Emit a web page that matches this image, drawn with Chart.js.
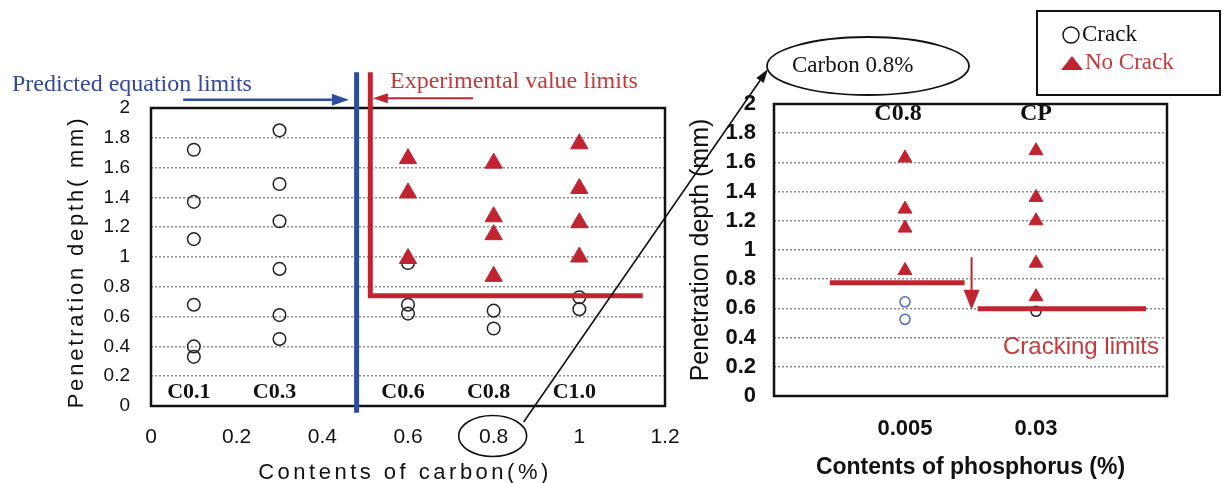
<!DOCTYPE html>
<html><head><meta charset="utf-8">
<script src="https://cdn.jsdelivr.net/npm/chart.js@4.4.1/dist/chart.umd.min.js"></script>
<style>
html,body{margin:0;padding:0;background:#fff;overflow:hidden}
#wrap{position:relative;width:1223px;height:483px;background:#fff}
canvas{position:absolute;left:0;top:0}
</style></head><body>
<div id="wrap"><canvas id="c1" width="1223" height="483"></canvas><canvas id="c2" width="1223" height="483"></canvas></div>
<script>
// ---------- data: left chart (carbon) ----------
const carbonContents = [0.1, 0.3, 0.6, 0.8, 1.0];
const carbonLabels = ['C0.1', 'C0.3', 'C0.6', 'C0.8', 'C1.0'];
const carbonCrack = [
  [1.72, 1.37, 1.12, 0.68, 0.40, 0.33],
  [1.85, 1.49, 1.24, 0.92, 0.61, 0.45],
  [0.96, 0.68, 0.62],
  [0.64, 0.52],
  [0.73, 0.65]
];
const carbonNoCrack = [
  [],
  [],
  [1.66, 1.43, 0.99],
  [1.63, 1.27, 1.15, 0.87],
  [1.76, 1.46, 1.23, 1.00]
];
const carbonTicks = [0, 0.2, 0.4, 0.6, 0.8, 1, 1.2];
const depthTicks = [0, 0.2, 0.4, 0.6, 0.8, 1, 1.2, 1.4, 1.6, 1.8, 2];
const predictedLimitX = [0.48, 0.48];
const predictedLimitY = [2.24, -0.045];
const experimentalLimitX = [0.512, 0.512, 1.148];
const experimentalLimitY = [2.24, 0.74, 0.74];
const predictedArrowX = [0.075, 0.462];
const predictedArrowY = [2.056, 2.056];
const experimentalArrowX = [0.752, 0.518];
const experimentalArrowY = [2.065, 2.065];

// ---------- data: right chart (phosphorus, carbon 0.8%) ----------
const phosphorusPos = [1, 2];
const phosphorusLabels = ['0.005', '0.03'];
const phosphorusGroups = ['C0.8', 'CP'];
const phosCrackC08 = [0.645, 0.525];
const phosCrackCP = [0.58];
const phosNoCrack = [
  [1.63, 1.28, 1.15, 0.86],
  [1.68, 1.36, 1.20, 0.91, 0.68]
];
const crackLimit1X = [0.426, 1.455];
const crackLimit1Y = [0.775, 0.775];
const crackLimit2X = [1.554, 2.84];
const crackLimit2Y = [0.597, 0.597];
const crackArrowX = [1.508, 1.508];
const crackArrowY = [0.95, 0.59];

// ---------- styles ----------
const SANS = '"Liberation Sans", Arial, sans-serif';
const SERIF = '"Liberation Serif", "Times New Roman", serif';
const RED = '#BF2430';
const REDTXT = '#C43A3A';
const BLUE = '#2D4E9C';
const BLUETXT = '#34489A';
const GRID = '#8c8c8c';

function pts(xs, groups) {
  const out = [];
  groups.forEach((g, i) => g.forEach(v => out.push({x: xs[i], y: v})));
  return out;
}
function line(xs, ys) { return xs.map((x, i) => ({x: x, y: ys[i]})); }
function fmt(v) { return String(+(+v).toFixed(1)); }

function arrow(ctx, x1, y1, x2, y2, color, width, headLen, headW) {
  ctx.save();
  ctx.strokeStyle = color; ctx.fillStyle = color; ctx.lineWidth = width;
  const a = Math.atan2(y2 - y1, x2 - x1);
  const bx = x2 - headLen * Math.cos(a), by = y2 - headLen * Math.sin(a);
  ctx.beginPath(); ctx.moveTo(x1, y1); ctx.lineTo(bx, by); ctx.stroke();
  ctx.beginPath();
  ctx.moveTo(x2, y2);
  ctx.lineTo(bx + headW / 2 * Math.sin(a), by - headW / 2 * Math.cos(a));
  ctx.lineTo(bx - headW / 2 * Math.sin(a), by + headW / 2 * Math.cos(a));
  ctx.closePath(); ctx.fill();
  ctx.restore();
}
function text(ctx, str, x, y, font, color, align, spacing) {
  ctx.save();
  ctx.font = font; ctx.fillStyle = color;
  ctx.textAlign = align || 'left'; ctx.textBaseline = 'middle';
  if (spacing) ctx.letterSpacing = spacing;
  ctx.fillText(str, x, y);
  ctx.restore();
}
function box(ctx, a) {
  ctx.save();
  ctx.strokeStyle = '#111'; ctx.lineWidth = 2.5;
  ctx.strokeRect(a.left, a.top, a.right - a.left, a.bottom - a.top);
  ctx.restore();
}

// ---------- left chart ----------
const annot1 = {
  id: 'annot1',
  beforeDatasetsDraw(chart) { box(chart.ctx, chart.chartArea); },
  afterDraw(chart) {
    const ctx = chart.ctx, xs = chart.scales.x, ys = chart.scales.y, a = chart.chartArea;
    arrow(ctx, xs.getPixelForValue(predictedArrowX[0]), ys.getPixelForValue(predictedArrowY[0]),
      xs.getPixelForValue(predictedArrowX[1]), ys.getPixelForValue(predictedArrowY[1]), BLUE, 2.5, 17, 12);
    arrow(ctx, xs.getPixelForValue(experimentalArrowX[0]), ys.getPixelForValue(experimentalArrowY[0]),
      xs.getPixelForValue(experimentalArrowX[1]), ys.getPixelForValue(experimentalArrowY[1]), RED, 2, 15, 10);
    text(ctx, 'Predicted equation limits', 12, 85, '24px ' + SERIF, BLUETXT, 'left');
    text(ctx, 'Experimental value limits', 390, 82, '24px ' + SERIF, REDTXT, 'left');
    carbonLabels.forEach((lab, i) => {
      text(ctx, lab, xs.getPixelForValue(carbonContents[i]) - 5, a.bottom - 14, 'bold 22px ' + SERIF, '#111', 'center');
    });
    // axis titles
    ctx.save();
    ctx.translate(77, 262);
    ctx.rotate(-Math.PI / 2);
    text(ctx, 'Penetration depth( mm)', 0, 0, '22px ' + SANS, '#111', 'center', '2.8px');
    ctx.restore();
    text(ctx, 'Contents of carbon(%)', 405, 473, '22px ' + SANS, '#111', 'center', '3.5px');
    // ellipse around 0.8
    ctx.save();
    ctx.strokeStyle = '#111'; ctx.lineWidth = 1.6;
    ctx.beginPath();
    ctx.ellipse(xs.getPixelForValue(0.8) - 1, 436, 34, 20.5, 0, 0, Math.PI * 2);
    ctx.stroke();
    ctx.restore();
  }
};

const chart1 = new Chart(document.getElementById('c1'), {
  type: 'scatter',
  data: {datasets: [
    {label: 'Experimental value limits', data: line(experimentalLimitX, experimentalLimitY), showLine: true,
      borderColor: RED, borderWidth: 5, pointRadius: 0, clip: false, borderJoinStyle: 'miter', borderCapStyle: 'butt'},
    {label: 'Predicted equation limits', data: line(predictedLimitX, predictedLimitY), showLine: true,
      borderColor: BLUE, borderWidth: 5, pointRadius: 0, clip: false},
    {label: 'No Crack', data: pts(carbonContents, carbonNoCrack), pointStyle: 'triangle', pointRadius: 10,
      backgroundColor: RED, borderColor: RED, borderWidth: 1},
    {label: 'Crack', data: pts(carbonContents, carbonCrack), pointStyle: 'circle', pointRadius: 6.3,
      backgroundColor: 'rgba(0,0,0,0)', borderColor: '#222', borderWidth: 1.5}
  ]},
  options: {
    responsive: false, devicePixelRatio: 1, animation: false, events: [],
    layout: {padding: {left: 100, right: 558, top: 108, bottom: 27}},
    plugins: {legend: {display: false}, tooltip: {enabled: false}},
    scales: {
      x: {type: 'linear', min: 0, max: 1.2,
        afterBuildTicks(s) { s.ticks = carbonTicks.map(v => ({value: v})); },
        ticks: {padding: 19, color: '#111', autoSkip: false, maxRotation: 0, font: {family: SANS, size: 21}, callback: fmt},
        grid: {display: false, drawTicks: false}, border: {display: false},
        afterFit(s) { s.height = 50; }},
      y: {min: 0, max: 2,
        afterBuildTicks(s) { s.ticks = depthTicks.map(v => ({value: v})); },
        ticks: {padding: 21, color: '#111', autoSkip: false, font: {family: SANS, size: 19}, callback: fmt},
        grid: {drawTicks: false, color: GRID, lineWidth: 1.5}, border: {display: false, dash: [2, 2]},
        afterFit(s) { s.width = 51; }}
    }
  },
  plugins: [annot1]
});

// ---------- right chart ----------
const annot2 = {
  id: 'annot2',
  beforeDatasetsDraw(chart) { box(chart.ctx, chart.chartArea); },
  afterDraw(chart) {
    const ctx = chart.ctx, xs = chart.scales.x, ys = chart.scales.y, a = chart.chartArea;
    arrow(ctx, xs.getPixelForValue(crackArrowX[0]), ys.getPixelForValue(crackArrowY[0]),
      xs.getPixelForValue(crackArrowX[1]), ys.getPixelForValue(crackArrowY[1]), RED, 2, 20, 16);
    text(ctx, 'Cracking limits', 1003, 347, '24px ' + SANS, REDTXT, 'left');
    phosphorusGroups.forEach((lab, i) => {
      text(ctx, lab, xs.getPixelForValue(phosphorusPos[i]) - (i === 0 ? 7 : 0), a.top + 10, 'bold 24px ' + SERIF, '#111', 'center');
    });
    // "Carbon 0.8%" ellipse
    ctx.save();
    ctx.strokeStyle = '#111'; ctx.lineWidth = 1.8;
    ctx.beginPath(); ctx.ellipse(868, 66, 101, 29, 0, 0, Math.PI * 2); ctx.stroke();
    ctx.restore();
    text(ctx, 'Carbon 0.8%', 792, 66, '23px ' + SERIF, '#111', 'left');
    // connector from the 0.8 tick ellipse
    const x08 = chart1.scales.x.getPixelForValue(0.8);
    arrow(ctx, x08 + 30, 422, 768, 69, '#111', 1.6, 14, 9);
    // legend
    ctx.save();
    ctx.strokeStyle = '#111'; ctx.lineWidth = 2;
    ctx.strokeRect(1037, 11, 183, 84);
    ctx.lineWidth = 1.4;
    ctx.beginPath(); ctx.arc(1071, 35, 8, 0, Math.PI * 2); ctx.stroke();
    ctx.fillStyle = RED;
    ctx.beginPath(); ctx.moveTo(1072, 56); ctx.lineTo(1083, 70); ctx.lineTo(1061, 70); ctx.closePath(); ctx.fill();
    ctx.restore();
    text(ctx, 'Crack', 1082, 35, '23px ' + SERIF, '#111', 'left');
    text(ctx, 'No Crack', 1085, 63, '23px ' + SERIF, REDTXT, 'left');
  }
};

const chart2 = new Chart(document.getElementById('c2'), {
  type: 'scatter',
  data: {datasets: [
    {label: 'Cracking limits C0.8', data: line(crackLimit1X, crackLimit1Y), showLine: true,
      borderColor: RED, borderWidth: 5, pointRadius: 0, clip: false, borderCapStyle: 'butt'},
    {label: 'Cracking limits CP', data: line(crackLimit2X, crackLimit2Y), showLine: true,
      borderColor: RED, borderWidth: 5, pointRadius: 0, clip: false, borderCapStyle: 'butt'},
    {label: 'No Crack', data: pts(phosphorusPos, phosNoCrack), pointStyle: 'triangle', pointRadius: 8,
      backgroundColor: RED, borderColor: RED, borderWidth: 1},
    {label: 'Crack C0.8', data: pts([phosphorusPos[0]], [phosCrackC08]), pointStyle: 'circle', pointRadius: 5,
      backgroundColor: 'rgba(0,0,0,0)', borderColor: '#4B6CB7', borderWidth: 1.5},
    {label: 'Crack CP', data: pts([phosphorusPos[1]], [phosCrackCP]), pointStyle: 'circle', pointRadius: 5,
      backgroundColor: 'rgba(0,0,0,0)', borderColor: '#222', borderWidth: 1.5}
  ]},
  options: {
    responsive: false, devicePixelRatio: 1, animation: false, events: [],
    layout: {padding: {left: 682, right: 56, top: 104, bottom: 2}},
    plugins: {legend: {display: false}, tooltip: {enabled: false}},
    scales: {
      x: {type: 'linear', min: 0, max: 3,
        afterBuildTicks(s) { s.ticks = [0, 1, 2, 3].map(v => ({value: v})); },
        ticks: {padding: 20, color: '#111', autoSkip: false, maxRotation: 0, font: {family: SANS, size: 22, weight: 'bold'},
          callback: v => (v === 1 || v === 2) ? phosphorusLabels[v - 1] : ''},
        grid: {display: false, drawTicks: false}, border: {display: false},
        title: {display: true, text: 'Contents of phosphorus (%)', color: '#111', padding: {top: 0, bottom: 0},
          font: {family: SANS, size: 23, weight: 'bold'}},
        afterFit(s) { s.height = 85; }},
      y: {min: 0, max: 2,
        afterBuildTicks(s) { s.ticks = depthTicks.map(v => ({value: v})); },
        ticks: {padding: 18, color: '#111', autoSkip: false, font: {family: SANS, size: 22, weight: 'bold'}, callback: fmt},
        grid: {drawTicks: false, color: GRID, lineWidth: 1.5}, border: {display: false, dash: [2, 2]},
        title: {display: true, text: 'Penetration depth (mm)', color: '#111', padding: {top: 4, bottom: 0},
          font: {family: SANS, size: 25}},
        afterFit(s) { s.width = 92; }}
    }
  },
  plugins: [annot2]
});
</script>
</body></html>
